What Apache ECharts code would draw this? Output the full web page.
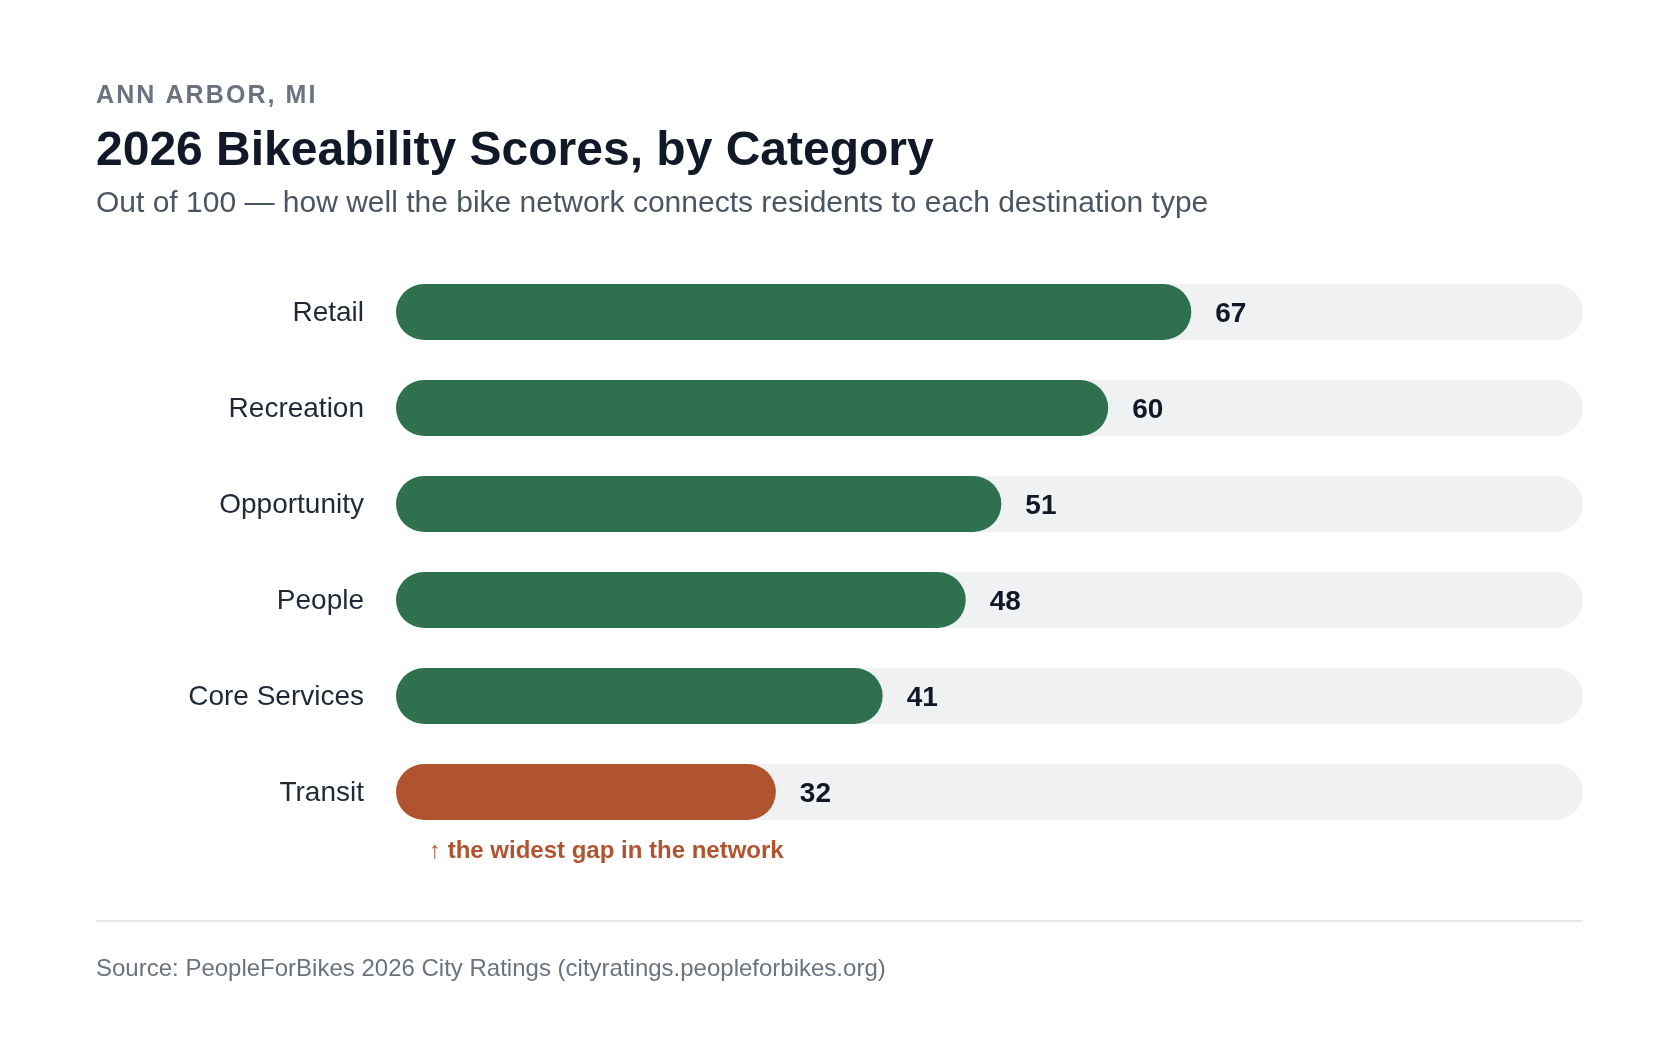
<!DOCTYPE html>
<html>
<head>
<meta charset="utf-8">
<style>
html,body{margin:0;padding:0;background:#fff;}
#c{width:1680px;height:1062px;}
</style>
<script src="https://cdn.jsdelivr.net/npm/echarts@6/dist/echarts.min.js"></script>
</head>
<body>
<div id="c"></div>
<script>
const categories = ['Retail', 'Recreation', 'Opportunity', 'People', 'Core Services', 'Transit'];
const scores = [67, 60, 51, 48, 41, 32];
const highlightCategory = 'Transit';
const axisMax = 100;

const FONT = '"Liberation Sans", Arial, Helvetica, sans-serif';
const GREEN = '#2f704e';
const ORANGE = '#b05430';

const chart = echarts.init(document.getElementById('c'));

function spaced(s) { return s.split('').join('\u200A'); }

chart.setOption({
  backgroundColor: '#ffffff',
  animation: false,
  grid: { left: 396, right: 97, top: 264, bottom: 222, containLabel: false },
  xAxis: {
    type: 'value', min: 0, max: axisMax,
    show: false
  },
  yAxis: {
    type: 'category', data: categories, inverse: true,
    axisLine: { show: false }, axisTick: { show: false }, splitLine: { show: false },
    axisLabel: { margin: 32, fontSize: 28, color: '#1f2937', fontFamily: FONT, verticalAlign: 'top', lineHeight: 34, padding: [-16, 0, 0, 0] }
  },
  series: [{
    type: 'bar',
    barWidth: 56,
    showBackground: true,
    backgroundStyle: { color: '#f0f1f3', borderRadius: 28 },
    itemStyle: { borderRadius: 28 },
    data: scores.map((v, i) => ({
      value: v,
      itemStyle: { color: categories[i] === highlightCategory ? ORANGE : GREEN }
    })),
    label: {
      show: true, position: 'right', distance: 24,
      fontSize: 28, fontWeight: 'bold', color: '#111827', fontFamily: FONT,
      offset: [0, 2]
    }
  }],
  graphic: [
    { type: 'text', left: 96, top: 84, style: { text: spaced('ANN ARBOR, MI'), font: 'bold 25px ' + FONT, fill: '#6b7280' } },
    { type: 'text', left: 96, top: 128, style: { text: '2026 Bikeability Scores, by Category', font: 'bold 48px ' + FONT, fill: '#111827' } },
    { type: 'text', left: 96, top: 189, style: { text: 'Out of 100 \u2014 how well the bike network connects residents to each destination type', font: '30px ' + FONT, fill: '#4b5563' } },
    { type: 'text', left: 429, top: 839, style: { text: '\u2191 the widest gap in the network', font: 'bold 24px ' + FONT, fill: ORANGE } },
    { type: 'line', shape: { x1: 96, y1: 921, x2: 1583, y2: 921 }, style: { stroke: '#e5e7eb', lineWidth: 2 } },
    { type: 'text', left: 96, top: 957, style: { text: 'Source: PeopleForBikes 2026 City Ratings (cityratings.peopleforbikes.org)', font: '24px ' + FONT, fill: '#6b7280' } }
  ]
});
</script>
</body>
</html>
